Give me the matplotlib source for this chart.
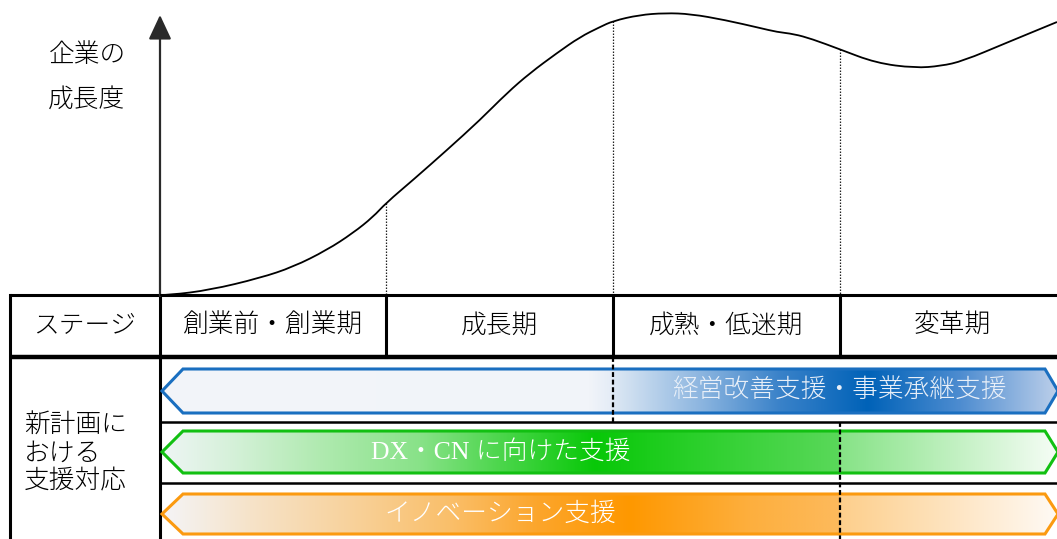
import numpy as np
import matplotlib
matplotlib.use("Agg")
import matplotlib.pyplot as plt
from matplotlib.path import Path
from matplotlib.patches import PathPatch, Polygon

plt.rcParams['font.family'] = ['Noto Sans CJK JP', 'DejaVu Sans']

# growth curve (pixel coords, y grows downward)
curve_x = [160, 170, 210, 260, 293, 327, 353, 373, 386, 413, 447, 480, 507,
           530, 557, 580, 600, 613, 639, 665, 691, 725, 760, 777, 794, 812,
           839, 876, 915, 941, 963, 1006, 1057]
curve_y = [295, 295, 290, 278, 267, 250, 233, 217, 203, 180, 150, 120, 93,
           73, 53, 37, 27, 21, 15, 13, 14, 20, 28, 32, 34, 39,
           49, 63, 68, 66, 61, 43, 22]

stage_title = "ステージ"
stages = ["創業前・創業期", "成長期", "成熟・低迷期", "変革期"]
stage_edges = [160, 386, 613, 840, 1064]

y_label = ["企業の", "成長度"]
support_title = ["新計画に", "おける", "支援対応"]
supports = ["経営改善支援・事業承継支援", "DX・CN に向けた支援", "イノベーション支援"]

# gradient stops per arrow: (x, colour)
blue_stops = [(162, "#f3f5fa"), (590, "#f1f4f9"), (612, "#e4ecf6"), (613.5, "#dde8f4"),
              (700, "#8db6e0"), (780, "#3a82c9"), (868, "#0062b8"), (960, "#4d8cd0"),
              (1058, "#bccfea")]
green_stops = [(163, "#eef5f4"), (230, "#d6f1da"), (320, "#b0eab0"), (420, "#88e288"),
               (500, "#4cd64c"), (595, "#08c808"), (700, "#2cd02c"), (839, "#5ad85a"),
               (841, "#86e386"), (950, "#bff0bf"), (1058, "#f6fdf6")]
orange_stops = [(164, "#f4f4f6"), (250, "#f6e3c9"), (350, "#f8d29c"), (450, "#fabf6a"),
                (540, "#fca52a"), (630, "#ff9800"), (750, "#fdaf3e"), (839, "#fdba5c"),
                (841, "#fdcf8c"), (950, "#fee4c0"), (1058, "#fffaf5")]
edge_colors = ["#1a6fc0", "#12c012", "#fb9a10"]
text_colors = ["#e8eff8", "white", "white"]
text_x = [840, 501, 500]
row_top = [369, 431, 494]
row_bot = [413, 473, 534]


def hex_rgb(h):
    return np.array(matplotlib.colors.to_rgb(h))


fig = plt.figure(figsize=(10.57, 5.39), dpi=100)
ax = fig.add_axes([0, 0, 1, 1])
ax.set_xlim(0, 1057)
ax.set_ylim(539, 0)
ax.axis('off')

# y axis with arrow head
ax.annotate('', xy=(160, 15), xytext=(160, 296),
            arrowprops=dict(arrowstyle='-|>,head_length=1.5,head_width=0.7',
                            lw=1.6, color='#2a2a2a', shrinkA=0, shrinkB=0))
for i, t in enumerate(y_label):
    ax.text(87, 55 + 44 * i, t, ha='center', va='center', fontsize=18.5,
            fontweight='light')

# smooth curve through the read points (quadratic segments between midpoints)
pts = np.column_stack([curve_x, curve_y]).astype(float)
verts = [pts[0]]
codes = [Path.MOVETO]
for i in range(1, len(pts) - 1):
    mid = (pts[i] + pts[i + 1]) / 2
    verts += [pts[i], mid]
    codes += [Path.CURVE3, Path.CURVE3]
verts.append(pts[-1])
codes.append(Path.LINETO)
ax.add_patch(PathPatch(Path(verts, codes), fill=False, lw=1.3, color='black',
                       zorder=3))

# dotted guides from curve down to the table
for xe in stage_edges[1:4]:
    yc = np.interp(xe, curve_x, curve_y)
    ax.plot([xe, xe], [yc, 295], ls=(0, (1.2, 1.2)), lw=0.9, color='#222222')

# table lines
ax.plot([10, 1057], [295, 295], color='black', lw=2.2, solid_capstyle='butt')
ax.plot([10, 1057], [357, 357], color='black', lw=3.2, solid_capstyle='butt')
ax.plot([10, 10], [295, 539], color='black', lw=2.2)
ax.plot([160, 160], [295, 539], color='black', lw=2.2)
for xe in stage_edges[1:4]:
    ax.plot([xe, xe], [295, 357], color='black', lw=2.2)
ax.plot([160, 1057], [422, 422], color='black', lw=1.8)
ax.plot([160, 1057], [483, 483], color='black', lw=1.8)

ax.text(85, 325, stage_title, ha='center', va='center', fontsize=18.5,
        fontweight='light')
for i, s in enumerate(stages):
    ax.text((stage_edges[i] + stage_edges[i + 1]) / 2, 325, s,
            ha='center', va='center', fontsize=18.5, fontweight='light')

for i, t in enumerate(support_title):
    ax.text(24, 425 + 28 * i, t, ha='left', va='center', fontsize=18.5,
            fontweight='light')

# gradient arrows
all_stops = [blue_stops, green_stops, orange_stops]
gx = np.linspace(160, 1060, 1200)
for k in range(3):
    top, bot = row_top[k], row_bot[k]
    mid = (top + bot) / 2
    poly = [(162, mid), (183, top), (1045, top), (1058, mid), (1045, bot), (183, bot)]
    xs = [s[0] for s in all_stops[k]]
    cs = np.array([hex_rgb(s[1]) for s in all_stops[k]])
    img = np.stack([np.interp(gx, xs, cs[:, c]) for c in range(3)], axis=-1)[None, :, :]
    patch = Polygon(poly, closed=True, facecolor='none', edgecolor='none')
    ax.add_patch(patch)
    im = ax.imshow(img, extent=(160, 1060, bot, top), aspect='auto',
                   interpolation='bilinear', zorder=1)
    im.set_clip_path(patch)
    ax.add_patch(Polygon(poly, closed=True, fill=False, edgecolor=edge_colors[k],
                         lw=2.2, joinstyle='miter', zorder=2))
    fam = ['Liberation Serif', 'Noto Sans CJK JP'] if 'DX' in supports[k] else None
    kw = {'family': fam} if fam else {}
    ax.text(text_x[k], mid, supports[k], ha='center', va='center',
            fontsize=18.5, color=text_colors[k], fontweight='light', zorder=4, **kw)

# dashed stage markers across the arrows
ax.plot([613, 613], [357, 422], ls=(0, (2.2, 1.2)), lw=1.6, color='black', zorder=5)
ax.plot([840, 840], [422, 539], ls=(0, (2.2, 1.2)), lw=1.6, color='black', zorder=5)

ax.set_xlim(0, 1057)
ax.set_ylim(539, 0)
fig.savefig("out.png", dpi=100)
